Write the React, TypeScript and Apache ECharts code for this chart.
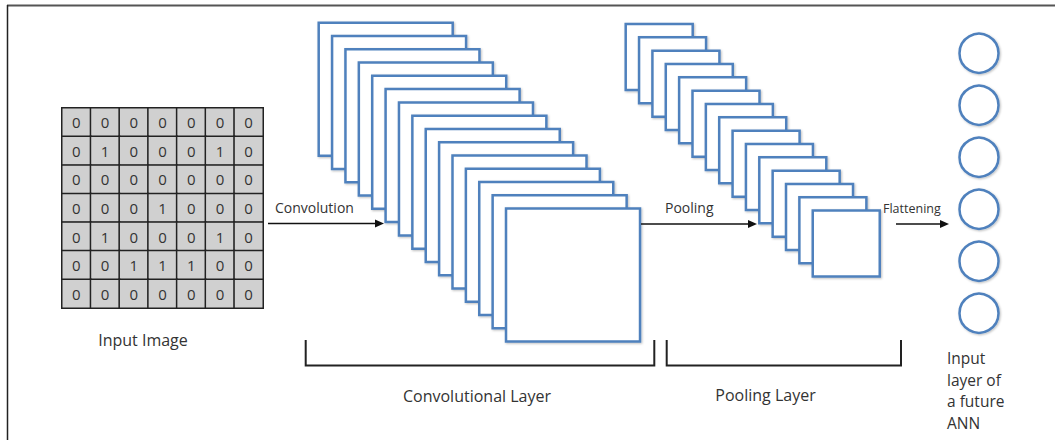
import React, { useEffect, useRef } from "react";
import * as echarts from "echarts";

// Input image pixel matrix (rows top to bottom)
const inputImage: number[][] = [
  [0, 0, 0, 0, 0, 0, 0],
  [0, 1, 0, 0, 0, 1, 0],
  [0, 0, 0, 0, 0, 0, 0],
  [0, 0, 0, 1, 0, 0, 0],
  [0, 1, 0, 0, 0, 1, 0],
  [0, 0, 1, 1, 1, 0, 0],
  [0, 0, 0, 0, 0, 0, 0],
];
const convMapCount = 15;
const poolMapCount = 15;
const neuronCount = 6;
const stepLabels = ["Convolution", "Pooling", "Flattening"];
const layerLabels = ["Input Image", "Convolutional Layer", "Pooling Layer"];
const annLabelLines = ["Input", "layer of", "a future", "ANN"];

const FONT = "'Open Sans', Lato, sans-serif";
const BLUE = "#4f81bd";
const TEXT = "#333333";

export default function App() {
  const ref = useRef<HTMLDivElement>(null);
  useEffect(() => {
    if (!ref.current) return;
    const chart = echarts.init(ref.current, undefined, { renderer: "svg" });

    const cols = inputImage[0].map((_, i) => String(i));
    const rows = inputImage.map((_, i) => String(i));
    const heatData: number[][] = [];
    inputImage.forEach((row, r) => row.forEach((v, c) => heatData.push([c, r, v])));

    const g: any[] = [];
    // frame
    g.push({ type: "line", shape: { x1: 7, y1: 5.5, x2: 1055, y2: 5.5 }, style: { stroke: "#555", lineWidth: 2 } });
    g.push({ type: "line", shape: { x1: 7.5, y1: 5, x2: 7.5, y2: 440 }, style: { stroke: "#222", lineWidth: 1.5 } });

    const shadow = { shadowBlur: 2, shadowOffsetX: 1, shadowOffsetY: 1, shadowColor: "rgba(0,0,0,0.25)" };
    // convolution feature maps
    for (let i = 0; i < convMapCount; i++) {
      g.push({
        type: "rect",
        shape: { x: 318.7 + i * 13.38, y: 22.7 + i * 13.28, width: 134, height: 133 },
        style: { fill: "#fff", stroke: BLUE, lineWidth: 2.5, ...shadow },
      });
    }
    // pooled maps
    for (let i = 0; i < poolMapCount; i++) {
      g.push({
        type: "rect",
        shape: { x: 625.7 + i * 13.36, y: 24 + i * 13.33, width: 67, height: 66 },
        style: { fill: "#fff", stroke: BLUE, lineWidth: 2.5, ...shadow },
      });
    }
    // neurons
    for (let i = 0; i < neuronCount; i++) {
      g.push({
        type: "circle",
        shape: { cx: 979, cy: 53.3 + i * 52, r: 19.5 },
        style: { fill: "#fff", stroke: BLUE, lineWidth: 2.5, ...shadow },
      });
    }
    // arrows
    const arrow = (x1: number, x2: number, y: number) => {
      g.push({ type: "line", shape: { x1, y1: y, x2: x2 - 6, y2: y }, style: { stroke: "#111", lineWidth: 1.3 } });
      g.push({
        type: "polygon",
        shape: { points: [[x2, y], [x2 - 9, y - 4], [x2 - 9, y + 4]] },
        style: { fill: "#111" },
      });
    };
    arrow(268, 384, 223.5);
    arrow(641, 757, 224);
    arrow(896, 949, 224);

    // step labels
    g.push({ type: "text", x: 275, y: 207, style: { text: stepLabels[0], font: `14px ${FONT}`, fill: TEXT, verticalAlign: "middle" } });
    g.push({ type: "text", x: 665, y: 207, style: { text: stepLabels[1], font: `14px ${FONT}`, fill: TEXT, verticalAlign: "middle" } });
    g.push({ type: "text", x: 883, y: 208, style: { text: stepLabels[2], font: `12.5px ${FONT}`, fill: TEXT, verticalAlign: "middle" } });

    // brackets
    const bracket = (x1: number, x2: number) => {
      g.push({
        type: "polyline",
        shape: { points: [[x1, 340], [x1, 365.5], [x2, 365.5], [x2, 340]] },
        style: { stroke: "#222", lineWidth: 2, fill: null },
      });
    };
    bracket(305.7, 654.3);
    bracket(666.7, 901);

    // layer labels
    g.push({ type: "text", x: 143, y: 340, style: { text: layerLabels[0], font: `16px ${FONT}`, fill: TEXT, align: "center", verticalAlign: "middle" } });
    g.push({ type: "text", x: 477, y: 396, style: { text: layerLabels[1], font: `16px ${FONT}`, fill: TEXT, align: "center", verticalAlign: "middle" } });
    g.push({ type: "text", x: 765.5, y: 395, style: { text: layerLabels[2], font: `16px ${FONT}`, fill: TEXT, align: "center", verticalAlign: "middle" } });
    annLabelLines.forEach((t, i) => {
      g.push({ type: "text", x: 947, y: 358 + i * 21.5, style: { text: t, font: `15.5px ${FONT}`, fill: TEXT, verticalAlign: "middle" } });
    });

    chart.setOption({
      animation: false,
      backgroundColor: "#fff",
      grid: { left: 62, top: 108, width: 201, height: 200 },
      xAxis: { type: "category", data: cols, show: false },
      yAxis: { type: "category", data: rows, inverse: true, show: false },
      visualMap: { show: false, min: 0, max: 1, dimension: 2, inRange: { color: ["#d0d0d0", "#d0d0d0"] } },
      series: [
        {
          type: "heatmap",
          data: heatData,
          itemStyle: { borderColor: "#222", borderWidth: 1.5 },
          label: {
            show: true,
            formatter: (p: any) => String(p.value[2]),
            fontSize: 15,
            fontFamily: FONT,
            color: TEXT,
          },
          emphasis: { disabled: true },
        },
      ],
      graphic: g,
    });
    return () => chart.dispose();
  }, []);
  return (
    <div
      ref={ref}
      style={{ position: "fixed", left: 0, top: 0, width: 1055, height: 440, background: "#fff" }}
    />
  );
}
